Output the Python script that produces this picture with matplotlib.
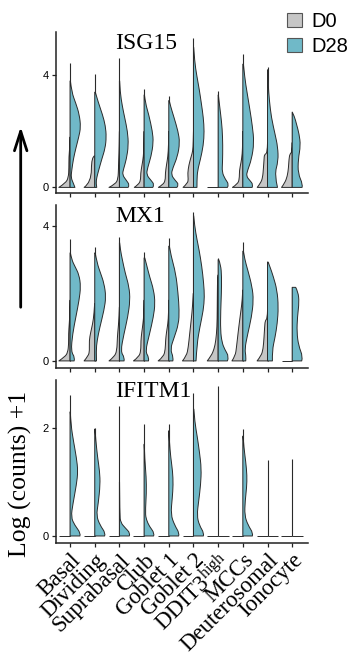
import matplotlib
matplotlib.use("Agg")
import matplotlib.pyplot as plt
import matplotlib.transforms as mtransforms
from matplotlib.patches import Patch, PathPatch, FancyArrowPatch
from matplotlib.path import Path

# ---------------- data ----------------
categories = ["Basal", "Dividing", "Suprabasal", "Club", "Goblet 1", "Goblet 2",
              "DDIT3$^{\\mathregular{high}}$", "MCCs", "Deuterosomal", "Ionocyte"]
groups = ["D0", "D28"]
genes = ["ISG15", "MX1", "IFITM1"]

# max expression (top of each violin) per category
ISG15_top = [4.45, 4.05, 4.63, 3.5, 3.25, 5.32, 3.44, 4.77, 4.3, 2.69]
MX1_top = [3.6, 3.39, 3.68, 3.22, 3.63, 4.41, 3.05, 3.51, 2.93, 2.18]
IFITM1_top = [2.62, 2.0, 2.41, 2.07, 2.07, 2.64, 2.77, 1.98, 1.41, 1.43]

# density profiles: (log expression, relative half-width) per category
ISG15_D0 = [
    [(0, 0.97), (0.15, 0.4), (0.35, 0.14), (0.7, 0.1), (1.1, 0.1), (1.4, 0.03), (1.8, 0)],
    [(0, 0.92), (0.18, 0.3), (1.1, 0.28), (1.13, 0)],
    [(0, 0.9), (0.12, 0.35), (0.3, 0.12), (0.7, 0.08), (1.0, 0.06), (1.4, 0.02), (2.0, 0)],
    [(0, 0.85), (0.1, 0.5), (0.25, 0.3), (0.5, 0.3), (0.8, 0.18), (1.1, 0.06), (1.5, 0.02), (2.0, 0)],
    [(0, 0.9), (0.1, 0.5), (0.25, 0.3), (0.5, 0.3), (0.8, 0.2), (1.1, 0.08), (1.5, 0.02), (2.0, 0)],
    [(0, 0.9), (0.15, 0.5), (0.3, 0.45), (0.5, 0.5), (0.8, 0.4), (1.1, 0.2), (1.3, 0.06), (1.6, 0.02), (2.0, 0)],
    [(0, 0.94)],
    [(0, 0.9), (0.12, 0.45), (0.3, 0.3), (0.6, 0.3), (0.9, 0.15), (1.2, 0.05), (1.6, 0.02), (2.0, 0)],
    [(0, 0.89), (0.15, 0.6), (0.35, 0.42), (0.7, 0.35), (1.0, 0.3), (1.18, 0.27), (1.22, 0.02), (1.6, 0)],
    [(0, 0.92), (0.15, 0.65), (0.4, 0.42), (0.7, 0.32), (1.0, 0.28), (1.2, 0.2), (1.25, 0.02), (1.6, 0)],
]
ISG15_D28 = [
    [(0, 0.42), (0.15, 0.28), (0.35, 0.08), (0.6, 0.14), (1.0, 0.28), (1.4, 0.5), (1.8, 0.75),
     (2.15, 0.92), (2.6, 0.8), (3.0, 0.5), (3.4, 0.14), (3.8, 0.03)],
    [(0, 0.17), (0.15, 0.11), (0.35, 0.17), (0.6, 0.33), (1.0, 0.6), (1.4, 0.9), (1.8, 1.0),
     (2.2, 0.92), (2.6, 0.67), (3.0, 0.33), (3.4, 0.05)],
    [(0, 0.75), (0.08, 0.88), (0.25, 0.6), (0.45, 0.25), (0.65, 0.35), (1.0, 0.6), (1.5, 0.78),
     (2.0, 0.7), (2.5, 0.45), (2.9, 0.25), (3.4, 0.06), (3.8, 0.02)],
    [(0, 0.75), (0.1, 0.88), (0.25, 0.6), (0.45, 0.2), (0.7, 0.3), (1.1, 0.6), (1.6, 0.8),
     (2.0, 0.72), (2.6, 0.4), (3.0, 0.12), (3.3, 0.03)],
    [(0, 0.7), (0.1, 0.88), (0.25, 0.55), (0.45, 0.2), (0.7, 0.35), (1.1, 0.75), (1.6, 0.95),
     (2.0, 0.8), (2.5, 0.45), (2.9, 0.15), (3.1, 0.04)],
    [(0, 0.3), (0.25, 0.3), (0.6, 0.35), (1.0, 0.6), (1.5, 0.85), (2.0, 0.93), (2.5, 0.85),
     (3.0, 0.68), (3.5, 0.5), (4.0, 0.28), (4.5, 0.1), (5.0, 0.02)],
    [(0, 0.8), (0.1, 0.94), (0.3, 0.6), (0.55, 0.33), (0.9, 0.38), (1.5, 0.4), (2.1, 0.35),
     (2.6, 0.22), (3.0, 0.1), (3.3, 0.02)],
    [(0, 0.8), (0.1, 0.89), (0.25, 0.6), (0.4, 0.3), (0.6, 0.4), (1.0, 0.75), (1.6, 0.97),
     (2.2, 0.82), (2.8, 0.6), (3.4, 0.36), (3.9, 0.17), (4.4, 0.05)],
    [(0, 0.86), (0.45, 0.6), (0.95, 0.93), (1.45, 0.88), (1.9, 0.65), (2.5, 0.33), (3.1, 0.16),
     (3.7, 0.05), (4.2, 0.01)],
    [(0, 0.85), (0.1, 0.92), (0.5, 0.5), (1.0, 0.52), (1.5, 0.72), (1.9, 0.6), (2.25, 0.38),
     (2.55, 0.18), (2.69, 0)],
]

MX1_D0 = [
    [(0, 0.97), (0.12, 0.45), (0.25, 0.2), (0.5, 0.12), (0.8, 0.13), (1.1, 0.07), (1.4, 0.02), (1.8, 0)],
    [(0, 0.92), (0.15, 0.55), (0.3, 0.45), (0.6, 0.48), (0.85, 0.35), (1.1, 0.18), (1.4, 0.06), (1.7, 0.01)],
    [(0, 0.9), (0.12, 0.45), (0.3, 0.22), (0.7, 0.18), (1.0, 0.1), (1.3, 0.03), (1.6, 0)],
    [(0, 0.92), (0.12, 0.45), (0.3, 0.28), (0.6, 0.28), (0.85, 0.2), (1.1, 0.1), (1.4, 0.02), (1.8, 0)],
    [(0, 0.92), (0.12, 0.45), (0.35, 0.3), (0.6, 0.28), (0.85, 0.2), (1.1, 0.08), (1.4, 0.02), (1.8, 0)],
    [(0, 0.95), (0.15, 0.6), (0.4, 0.45), (0.8, 0.33), (1.2, 0.2), (1.6, 0.08), (2.0, 0.02)],
    [(0, 0.94), (0.15, 0.6), (0.35, 0.35), (0.6, 0.2), (1.0, 0.1), (1.5, 0.08), (2.0, 0.07),
     (2.5, 0.05), (2.55, 0)],
    [(0, 0.94), (0.15, 0.65), (0.4, 0.55), (0.8, 0.42), (1.2, 0.28), (1.5, 0.16), (1.8, 0.05), (2.1, 0.01)],
    [(0, 0.9), (0.15, 0.55), (0.35, 0.38), (0.7, 0.3), (1.0, 0.25), (1.2, 0.2), (1.25, 0.02), (1.5, 0)],
    [(0, 0.92)],
]
MX1_D28 = [
    [(0, 0.35), (0.1, 0.42), (0.28, 0.08), (0.8, 0.22), (1.3, 0.5), (1.8, 0.78), (2.2, 0.92),
     (2.55, 0.78), (2.8, 0.42), (3.0, 0.14), (3.2, 0.03)],
    [(0, 0.15), (0.3, 0.12), (0.6, 0.2), (1.0, 0.44), (1.5, 0.8), (1.9, 0.97), (2.3, 0.8),
     (2.6, 0.5), (2.9, 0.2), (3.2, 0.04)],
    [(0, 0.4), (0.1, 0.44), (0.28, 0.1), (0.8, 0.39), (1.3, 0.72), (1.8, 0.92), (2.2, 0.83),
     (2.6, 0.5), (3.0, 0.25), (3.3, 0.08), (3.5, 0.02)],
    [(0, 0.38), (0.1, 0.42), (0.28, 0.1), (0.8, 0.47), (1.3, 0.8), (1.7, 0.95), (2.1, 0.83),
     (2.5, 0.47), (2.8, 0.25), (3.05, 0.06)],
    [(0, 0.35), (0.1, 0.4), (0.35, 0.12), (0.7, 0.47), (1.1, 0.85), (1.5, 0.9), (2.0, 0.8),
     (2.6, 0.6), (3.1, 0.2), (3.4, 0.05)],
    [(0, 0.22), (0.5, 0.3), (1.0, 0.55), (1.5, 0.85), (1.9, 0.95), (2.3, 0.88), (2.8, 0.72),
     (3.3, 0.48), (3.6, 0.3), (4.0, 0.1), (4.3, 0.02)],
    [(0, 0.8), (0.12, 0.94), (0.35, 0.55), (0.55, 0.33), (0.9, 0.2), (1.5, 0.22), (2.0, 0.28),
     (2.5, 0.3), (2.85, 0.22), (3.0, 0.05)],
    [(0, 0.25), (0.12, 0.28), (0.35, 0.16), (0.8, 0.42), (1.3, 0.75), (1.8, 0.92), (2.2, 0.8),
     (2.7, 0.42), (3.0, 0.17), (3.25, 0.05)],
    [(0, 0.42), (0.3, 0.4), (0.7, 0.65), (1.1, 0.84), (1.6, 0.94), (2.1, 0.82), (2.5, 0.5),
     (2.8, 0.2), (2.93, 0.05)],
    [(0, 0.82), (0.12, 0.92), (0.45, 0.55), (0.85, 0.4), (1.3, 0.45), (1.75, 0.6), (2.05, 0.5),
     (2.18, 0.3)],
]

IFITM1_D0 = [[(0, 0.94)] for _ in range(10)]
IFITM1_D28 = [
    [(0, 0.85), (0.05, 0.92), (0.2, 0.4), (0.35, 0.08), (0.6, 0.25), (0.95, 0.55), (1.2, 0.68),
     (1.45, 0.55), (1.75, 0.3), (2.05, 0.08), (2.3, 0.02)],
    [(0, 0.85), (0.05, 0.94), (0.2, 0.45), (0.38, 0.14), (0.6, 0.3), (0.95, 0.47), (1.2, 0.42),
     (1.45, 0.25), (1.75, 0.1), (1.98, 0.02)],
    [(0, 0.85), (0.05, 0.94), (0.15, 0.5), (0.25, 0.1), (0.4, 0.03), (1.0, 0.01)],
    [(0, 0.82), (0.05, 0.9), (0.18, 0.45), (0.3, 0.2), (0.42, 0.1), (0.8, 0.2), (1.1, 0.18),
     (1.4, 0.06), (1.7, 0.01)],
    [(0, 0.85), (0.05, 0.92), (0.2, 0.5), (0.4, 0.17), (0.7, 0.3), (0.95, 0.38), (1.2, 0.33),
     (1.45, 0.17), (1.75, 0.05), (1.95, 0.01)],
    [(0, 0.85), (0.05, 0.92), (0.2, 0.5), (0.38, 0.3), (0.65, 0.45), (0.95, 0.62), (1.25, 0.68),
     (1.55, 0.52), (1.85, 0.32), (2.1, 0.12), (2.35, 0.03)],
    [(0, 0.94)],
    [(0, 0.82), (0.05, 0.89), (0.2, 0.45), (0.38, 0.15), (0.65, 0.2), (0.9, 0.33), (1.12, 0.36),
     (1.38, 0.25), (1.62, 0.1), (1.85, 0.02)],
    [(0, 0.94)],
    [(0, 0.94)],
]

yticks_by_gene = {"ISG15": [0, 4], "MX1": [0, 4], "IFITM1": [0, 2]}
ylim_by_gene = {"ISG15": (-0.2, 5.55), "MX1": (-0.21, 4.62), "IFITM1": (-0.13, 2.89)}

panels = {
    "ISG15": (ISG15_top, ISG15_D0, ISG15_D28),
    "MX1": (MX1_top, MX1_D0, MX1_D28),
    "IFITM1": (IFITM1_top, IFITM1_D0, IFITM1_D28),
}

# ---------------- style ----------------
SERIF = "Liberation Serif"
SANS = "Liberation Sans"
plt.rcParams["mathtext.fontset"] = "custom"
plt.rcParams["mathtext.rm"] = SERIF
plt.rcParams["mathtext.it"] = SERIF + ":italic"
colors = {"D0": "#C6C6C6", "D28": "#70B9C8"}
EDGE = "#2a2a2a"
HALF = 0.47

W, H = 356, 657
fig = plt.figure(figsize=(W / 100, H / 100), dpi=100)

left_px, right_px = 56, 308
panel_px = [(32, 193), (205, 368), (380, 543)]


def half_violin(ax, c, prof, side, color):
    """Half violin outline; knots are smoothed with quadratic Bezier segments."""
    pts = [(c + side * HALF * w, y) for y, w in prof]
    verts = [(c, 0), pts[0]]
    codes = [Path.MOVETO, Path.LINETO]
    if len(pts) > 2:
        for k in range(1, len(pts) - 1):
            mx = (pts[k][0] + pts[k + 1][0]) / 2
            my = (pts[k][1] + pts[k + 1][1]) / 2
            if k == len(pts) - 2:
                verts += [pts[k], pts[k + 1]]
            else:
                verts += [pts[k], (mx, my)]
            codes += [Path.CURVE3, Path.CURVE3]
    elif len(pts) == 2:
        verts.append(pts[1])
        codes.append(Path.LINETO)
    verts += [(c, prof[-1][0]), (c, 0)]
    codes += [Path.LINETO, Path.CLOSEPOLY]
    ax.add_patch(PathPatch(Path(verts, codes), facecolor=color, edgecolor=EDGE,
                           linewidth=0.7, joinstyle="round"))


for gi, gene in enumerate(genes):
    top_px, bot_px = panel_px[gi]
    ax = fig.add_axes([left_px / W, 1 - bot_px / H, (right_px - left_px) / W, (bot_px - top_px) / H])
    tops, d0, d28 = panels[gene]
    for i in range(len(categories)):
        ax.plot([i, i], [0, tops[i]], color=EDGE, linewidth=0.8, solid_capstyle="butt", zorder=1)
        half_violin(ax, i, d0[i], -1, colors["D0"])
        half_violin(ax, i, d28[i], 1, colors["D28"])
    ax.set_xlim(-0.57, 9.64)
    ax.set_ylim(*ylim_by_gene[gene])
    ax.set_yticks(yticks_by_gene[gene])
    ax.set_yticklabels([str(t) for t in yticks_by_gene[gene]], fontfamily=SANS, fontsize=8)
    ax.set_xticks(range(len(categories)))
    if gi == 2:
        ax.set_xticklabels(categories, rotation=45, ha="right", va="top",
                           rotation_mode="anchor", fontfamily=SERIF, fontsize=16.5)
        shift = mtransforms.ScaledTranslation(-3 / 100, 6 / 100, fig.dpi_scale_trans)
        for lab in ax.get_xticklabels():
            lab.set_transform(lab.get_transform() + shift)
    else:
        ax.set_xticklabels([])
    for s in ["top", "right"]:
        ax.spines[s].set_visible(False)
    for s in ["left", "bottom"]:
        ax.spines[s].set_linewidth(1.1)
        ax.spines[s].set_color("#222222")
    ax.tick_params(axis="both", length=3, width=0.9, color="#222222", pad=2)
    fig.text(115 / W, 1 - (top_px + 1) / H, gene, ha="left", va="top",
             fontfamily=SERIF, fontsize=17)

# y label and arrow
fig.text(20 / W, 1 - 474 / H, "Log (counts) +1", rotation=90, ha="center", va="center",
         fontfamily=SERIF, fontsize=18.5)
fig.add_artist(FancyArrowPatch(
    (20.7 / W, 1 - 310 / H), (20.7 / W, 1 - 124 / H), transform=fig.transFigure,
    arrowstyle="->,head_length=14,head_width=4.5", linewidth=2.0, color="black",
    mutation_scale=1))

# legend
handles = [Patch(facecolor=colors[g], edgecolor="#555555", linewidth=0.8, label=g) for g in groups]
fig.legend(handles=handles, loc="upper left", bbox_to_anchor=(283 / W, 1 - 8 / H),
           frameon=False, prop={"family": SANS, "size": 14.5}, handlelength=0.75,
           handleheight=0.75, handletextpad=0.45, labelspacing=0.3, borderaxespad=0,
           borderpad=0.2)

fig.savefig("out.png", dpi=100)
